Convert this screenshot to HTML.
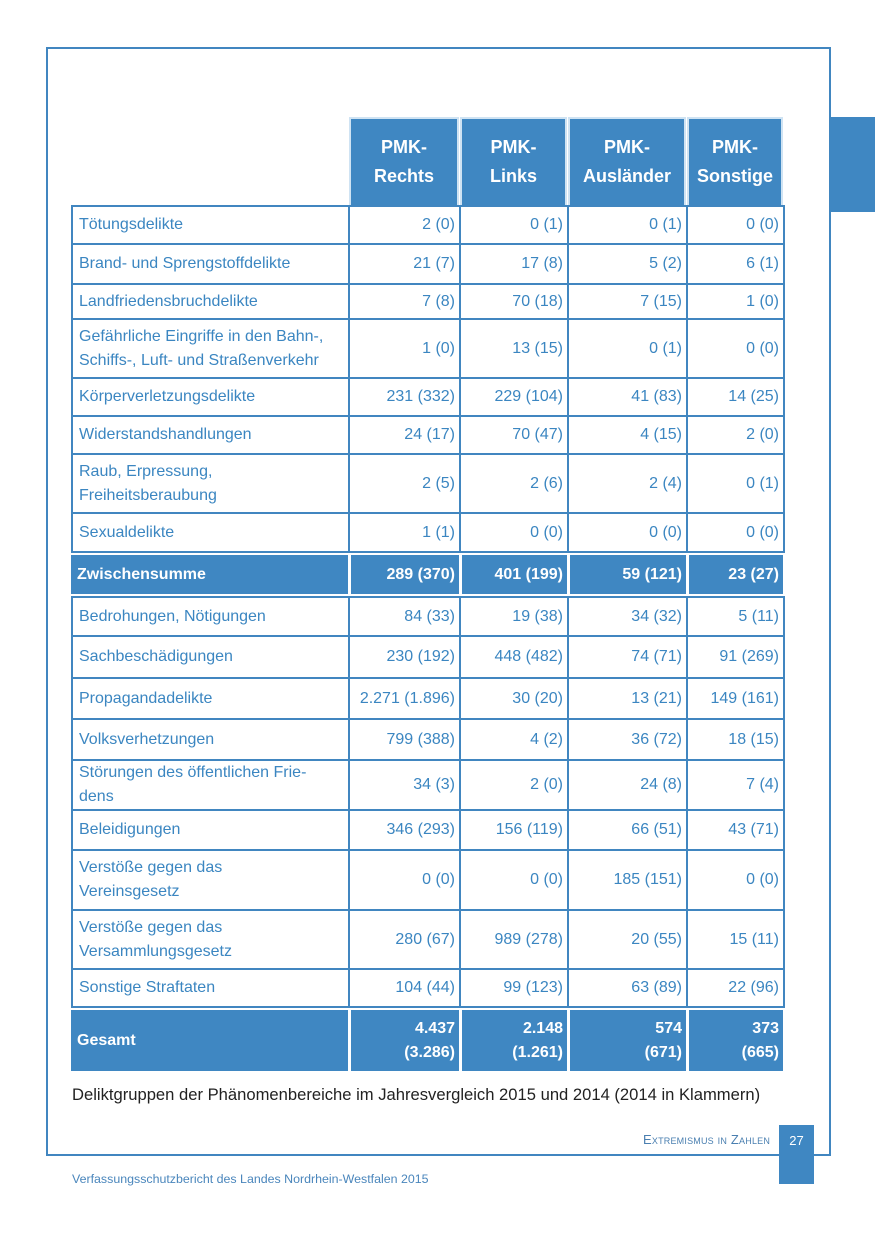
<!DOCTYPE html>
<html><head><meta charset="utf-8"><style>
body{margin:0;width:875px;height:1241px;position:relative;background:#fff;font-family:"Liberation Sans",sans-serif;overflow:hidden}
.a{position:absolute;box-sizing:border-box}
.c{color:#3b86c1;font-size:16px;line-height:24px;display:flex;align-items:center;border:2px solid #4186c0;background:#fff}
.l{padding-left:6px;justify-content:flex-start}
.n{padding-right:4px;justify-content:flex-end;text-align:right}
.f{background:#3f87c2;color:#fff;font-weight:bold;border:none}
</style></head><body>
<div class="a" style="left:46px;top:47px;width:785px;height:1109px;border:2px solid #4186c0"></div>
<div class="a" style="left:830px;top:117px;width:45px;height:95px;background:#3f87c2"></div>
<div id="t"></div>
<div class="a" style="left:72px;top:1085px;font-size:16.6px;color:#222;white-space:nowrap">Deliktgruppen der Phänomenbereiche im Jahresvergleich 2015 und 2014 (2014 in Klammern)</div>
<div class="a" style="left:643px;top:1132px;font-size:13px;color:#4a7fb0;font-variant:small-caps;letter-spacing:0.2px;white-space:nowrap">Extremismus in Zahlen</div>
<div class="a" style="left:779px;top:1125px;width:35px;height:59px;background:#3f87c2;color:#fff;font-size:13px;text-align:center;padding-top:8px">27</div>
<div class="a" style="left:72px;top:1172px;font-size:12.4px;color:#4a86bc;white-space:nowrap">Verfassungsschutzbericht des Landes Nordrhein-Westfalen 2015</div>
<script>
const headers=["PMK-<br>Rechts","PMK-<br>Links","PMK-<br>Ausländer","PMK-<br>Sonstige"];
const labels=["Tötungsdelikte","Brand- und Sprengstoffdelikte","Landfriedensbruchdelikte","Gefährliche Eingriffe in den Bahn-,<br>Schiffs-, Luft- und Straßenverkehr","Körperverletzungsdelikte","Widerstandshandlungen","Raub, Erpressung,<br>Freiheitsberaubung","Sexualdelikte","Zwischensumme","Bedrohungen, Nötigungen","Sachbeschädigungen","Propagandadelikte","Volksverhetzungen","Störungen des öffentlichen Frie-<br>dens","Beleidigungen","Verstöße gegen das<br>Vereinsgesetz","Verstöße gegen das<br>Versammlungsgesetz","Sonstige Straftaten","Gesamt"];
const values=[["2 (0)","0 (1)","0 (1)","0 (0)"],["21 (7)","17 (8)","5 (2)","6 (1)"],["7 (8)","70 (18)","7 (15)","1 (0)"],["1 (0)","13 (15)","0 (1)","0 (0)"],["231 (332)","229 (104)","41 (83)","14 (25)"],["24 (17)","70 (47)","4 (15)","2 (0)"],["2 (5)","2 (6)","2 (4)","0 (1)"],["1 (1)","0 (0)","0 (0)","0 (0)"],["289 (370)","401 (199)","59 (121)","23 (27)"],["84 (33)","19 (38)","34 (32)","5 (11)"],["230 (192)","448 (482)","74 (71)","91 (269)"],["2.271 (1.896)","30 (20)","13 (21)","149 (161)"],["799 (388)","4 (2)","36 (72)","18 (15)"],["34 (3)","2 (0)","24 (8)","7 (4)"],["346 (293)","156 (119)","66 (51)","43 (71)"],["0 (0)","0 (0)","185 (151)","0 (0)"],["280 (67)","989 (278)","20 (55)","15 (11)"],["104 (44)","99 (123)","63 (89)","22 (96)"],["4.437<br>(3.286)","2.148<br>(1.261)","574<br>(671)","373<br>(665)"]];
const filled=[8,18];
const colX=[71,348,459,567,686,783];
const rowY=[[205,245],[243,285],[283,320],[318,379],[377,417],[415,455],[453,514],[512,553],[555,594],[596,637],[635,679],[677,720],[718,761],[759,811],[809,851],[849,911],[909,970],[968,1008],[1010,1071]];
const t=document.getElementById('t');
function mk(x,y,w,h,cls,html,name){const d=document.createElement('div');d.className='a '+cls;d.style.cssText=`left:${x}px;top:${y}px;width:${w}px;height:${h}px`;d.innerHTML=html;


t.appendChild(d);return d;}
headers.forEach((h,i)=>{const d=mk(colX[i+1]+1,117,colX[i+2]-colX[i+1]-1,88,'c f','<div style="width:100%;text-align:center;font-size:18px;line-height:29px">'+h+'</div>','column-header');d.style.border='2px solid #cfe3f3';d.style.borderBottom='none';});
labels.forEach((lb,r)=>{const [y0,y1]=rowY[r];const f=filled.includes(r);
 mk(colX[0],y0,colX[1]-colX[0]+(f?0:2),y1-y0,'c l'+(f?' f':''),lb,'row-label');
 values[r].forEach((v,i)=>{mk(colX[i+1]+(f?3:0),y0,colX[i+2]-colX[i+1]+(f?-3:2),y1-y0,'c n'+(f?' f':''),v,'cell-value');});
});
</script>
</body></html>
